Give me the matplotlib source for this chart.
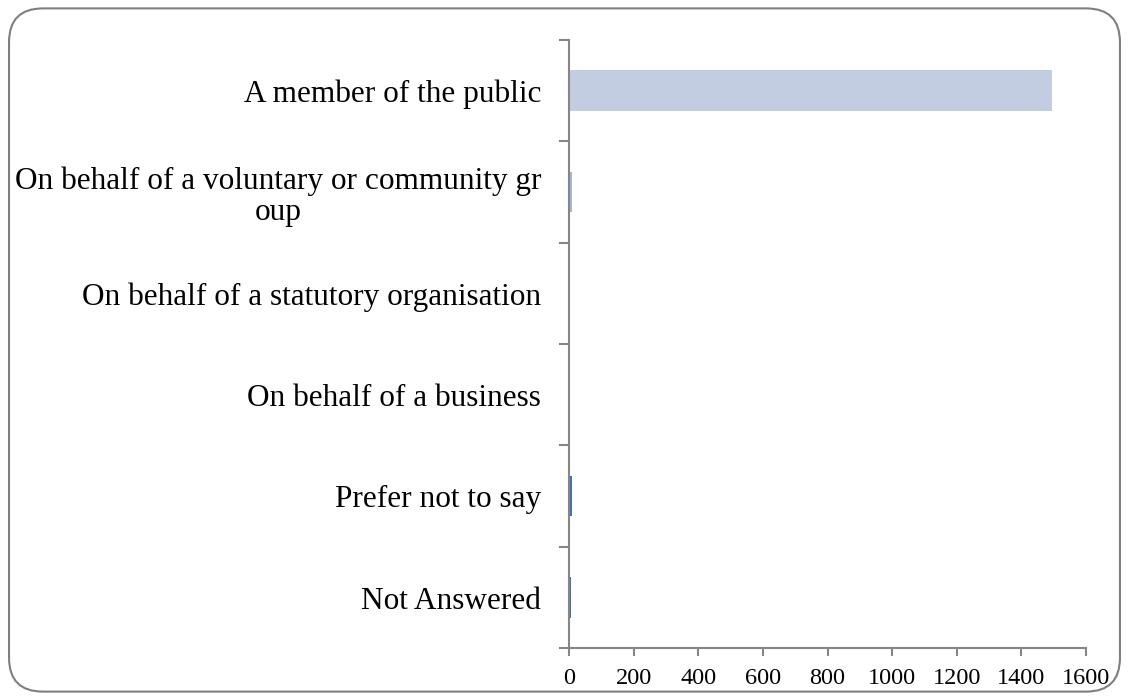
import numpy as np
import matplotlib
matplotlib.use('Agg')
import matplotlib.pyplot as plt
from matplotlib.patches import FancyBboxPatch

# Data
categories = ['A member of the public',
              'On behalf of a voluntary or community gr\noup',
              'On behalf of a statutory organisation',
              'On behalf of a business',
              'Prefer not to say',
              'Not Answered']
counts = [1495, 10, 0, 0, 10, 5]
bar_colors = ['#c3cde1', '#a3b6d9', '#4a76b6', '#4a76b6', '#4573b4', '#4a72aa']
xticks = [0, 200, 400, 600, 800, 1000, 1200, 1400, 1600]

plt.rcParams['font.family'] = ['Liberation Serif', 'DejaVu Serif']

fig = plt.figure(figsize=(11.29, 7.0), dpi=100)

# rounded chart border
border = FancyBboxPatch((0.008, 0.012), 0.984, 0.976,
                        boxstyle='round,pad=0,rounding_size=0.03',
                        transform=fig.transFigure, facecolor='none',
                        edgecolor='#7f7f7f', linewidth=1.5,
                        mutation_aspect=1129/700, zorder=-1)
fig.patches.append(border)

ax = fig.add_axes([0.504, 0.074, 0.458, 0.869])
ax.patch.set_alpha(0)

y = np.arange(len(categories))
ax.barh(y, counts, height=0.4, color=bar_colors)
ax.set_ylim(len(categories) - 0.5, -0.5)
ax.set_xlim(0, 1600)

ax.set_xticks(xticks)
ax.set_xticklabels([str(v) for v in xticks], fontsize=17.5)
ax.set_yticks(y)
ax.set_yticklabels(categories, fontsize=22.5)
for lab in ax.get_yticklabels():
    lab.set_multialignment('center')
    lab.set_linespacing(1.1)
ax.tick_params(axis='y', which='major', length=0, pad=20)
ax.set_yticks(np.arange(len(categories) + 1) - 0.5, minor=True)
ax.tick_params(axis='y', which='minor', length=7, width=1.5, color='#868686', direction='out')
ax.tick_params(axis='x', length=6, width=1.5, color='#868686', direction='out', pad=8)

for s in ['top', 'right']:
    ax.spines[s].set_visible(False)
for s in ['left', 'bottom']:
    ax.spines[s].set_color('#868686')
    ax.spines[s].set_linewidth(1.5)

fig.savefig('out.png', dpi=100)
